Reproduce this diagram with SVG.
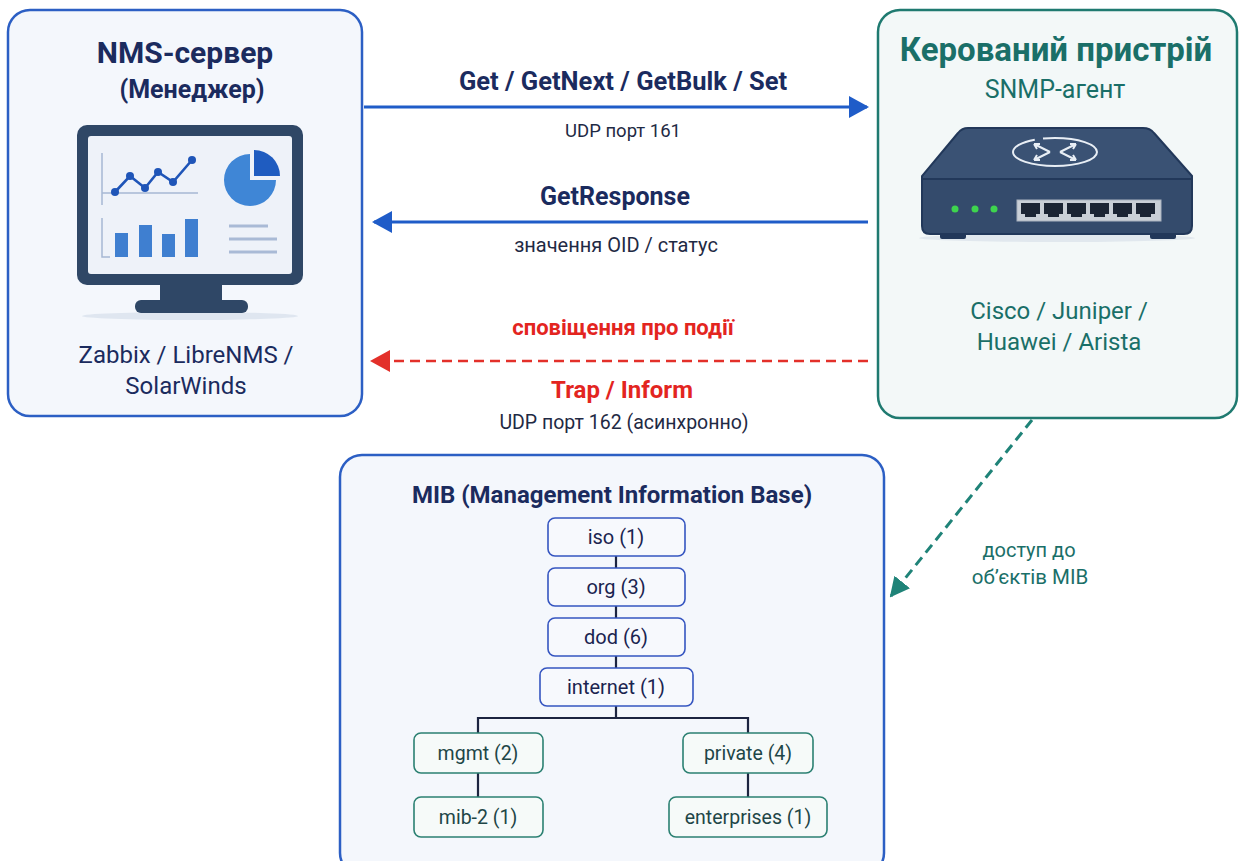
<svg xmlns="http://www.w3.org/2000/svg" width="1240" height="861" viewBox="0 0 1240 861">
  <defs>
    <style>
      text { font-family: Roboto, "Noto Sans", "DejaVu Sans", sans-serif; text-anchor: middle; }
      .navy { fill: #1b2b5e; }
      .teal { fill: #1a6f68; }
      .b { font-weight: bold; }
      .lbl { fill: #1f2a44; }
      .red { fill: #e3251f; font-weight: bold; }
      .box-blue { fill: #f4f7fc; stroke: #2c5fc4; stroke-width: 2.5; }
      .box-teal { fill: #f3f8f8; stroke: #1f7a70; stroke-width: 2.5; }
      .oid-top rect { fill: #f7f9fd; stroke: #3555c0; stroke-width: 1.6; }
      .oid-low rect { fill: #f6faf9; stroke: #2b8072; stroke-width: 1.6; }
      .oid-top text { font-size: 20px; fill: #1b2450; }
      .oid-low text { font-size: 19.5px; fill: #1e4647; }
      .tree { stroke: #1c2440; stroke-width: 2.2; fill: none; }
    </style>
    <marker id="arrBlue" viewBox="0 0 10 10" refX="9" refY="5" markerWidth="20" markerHeight="22" markerUnits="userSpaceOnUse" orient="auto" preserveAspectRatio="none">
      <path d="M0,0 L10,5 L0,10 z" fill="#1f5cc8"/>
    </marker>
    <marker id="arrRed" viewBox="0 0 10 10" refX="9" refY="5" markerWidth="20" markerHeight="22" markerUnits="userSpaceOnUse" orient="auto" preserveAspectRatio="none">
      <path d="M0,0 L10,5 L0,10 z" fill="#e3302a"/>
    </marker>
    <marker id="arrTeal" viewBox="0 0 10 10" refX="9" refY="5" markerWidth="20" markerHeight="20" markerUnits="userSpaceOnUse" orient="auto" preserveAspectRatio="none">
      <path d="M0,0 L10,5 L0,10 z" fill="#1f8378"/>
    </marker>
  </defs>

  <rect width="1240" height="861" fill="#ffffff"/>

  <!-- Manager -->
  <g id="nms">
    <rect class="box-blue" x="8" y="10" width="354" height="406" rx="22"/>
    <text x="185" y="63" class="navy b" font-size="30">NMS-сервер</text>
    <text x="192" y="98" class="navy b" font-size="25">(Менеджер)</text>
    <!-- monitor -->
    <ellipse cx="190" cy="316" rx="108" ry="4" fill="#dfe6f0"/>
    <rect x="77" y="125" width="226" height="160" rx="10" fill="#2f4766"/>
    <rect x="88" y="136" width="204" height="138" rx="3" fill="#eef2f9"/>
    <rect x="160" y="284" width="62" height="18" fill="#2f4766"/>
    <rect x="135" y="300" width="113" height="13" rx="6" fill="#2f4766"/>
    <!-- line chart -->
    <path d="M102,153 V205 M102,193 H198" stroke="#a7b8d4" stroke-width="1.5" fill="none"/>
    <polyline points="115,192 130,176 145,188 158,172 173,182 192,160" fill="none" stroke="#1f55b8" stroke-width="2.6"/>
    <g fill="#1f55b8">
      <circle cx="115" cy="192" r="4"/><circle cx="130" cy="176" r="4"/><circle cx="145" cy="188" r="4"/>
      <circle cx="158" cy="172" r="4"/><circle cx="173" cy="182" r="4"/><circle cx="192" cy="160" r="4"/>
    </g>
    <!-- pie -->
    <path d="M250,154 A26,26 0 1 0 276,180 L250,180 Z" fill="#3f86d6"/>
    <path d="M254,150 A26,26 0 0 1 280,176 L254,176 Z" fill="#1f5cc0"/>
    <!-- bars -->
    <path d="M102,218 V257 H110" stroke="#a7b8d4" stroke-width="1.5" fill="none"/>
    <g fill="#3f7fd0">
      <rect x="115" y="233" width="13" height="24"/>
      <rect x="139" y="225" width="13" height="32"/>
      <rect x="162" y="234" width="13" height="23"/>
      <rect x="185" y="219" width="13" height="38"/>
    </g>
    <g stroke="#a9bad6" stroke-width="3">
      <line x1="229" y1="226" x2="268" y2="226"/>
      <line x1="229" y1="239" x2="277" y2="239"/>
      <line x1="229" y1="252" x2="277" y2="252"/>
    </g>
    <text x="186" y="363" class="navy" font-size="24">Zabbix / LibreNMS /</text>
    <text x="186" y="394" class="navy" font-size="24">SolarWinds</text>
  </g>

  <!-- Agent -->
  <g id="device">
    <rect class="box-teal" x="878" y="10" width="359" height="408" rx="22"/>
    <text x="1056" y="61" class="teal b" font-size="33">Керований пристрій</text>
    <text x="1055" y="98" class="teal" font-size="25">SNMP-агент</text>
    <!-- router -->
    <ellipse cx="1057" cy="238" rx="138" ry="4" fill="#e1e8ee"/>
    <rect x="940" y="230" width="26" height="9" rx="2" fill="#22385a"/>
    <rect x="1150" y="230" width="26" height="9" rx="2" fill="#22385a"/>
    <path d="M968,128 H1143 Q1150,128 1154,133 L1192,176 L1192,180 H922 L922,176 L958,133 Q962,128 968,128 Z" fill="#3a5274" stroke="#22385a" stroke-width="2"/>
    <path d="M922,179 H1192 V226 Q1192,234 1184,234 H930 Q922,234 922,226 Z" fill="#344b6c" stroke="#22385a" stroke-width="2"/>
    <ellipse cx="1055" cy="152" rx="42" ry="14" fill="none" stroke="#e8eef5" stroke-width="2" stroke-dasharray="120 8 60 8"/>
    <g stroke="#e8eef5" stroke-width="2" fill="none">
      <path d="M1034,144 L1050,152 M1034,144 l6,0 M1034,144 l3,5"/>
      <path d="M1076,144 L1060,152 M1076,144 l-6,0 M1076,144 l-3,5"/>
      <path d="M1034,160 L1050,152 M1034,160 l6,0 M1034,160 l3,-5"/>
      <path d="M1076,160 L1060,152 M1076,160 l-6,0 M1076,160 l-3,-5"/>
    </g>
    <g fill="#3ed44e">
      <circle cx="955" cy="209" r="3.5"/><circle cx="975" cy="209" r="3.5"/><circle cx="994" cy="209" r="3.5"/>
    </g>
    <rect x="1017" y="200" width="144" height="21" fill="#c9cfd7" stroke="#aab3bf" stroke-width="1"/>
    <g fill="#1b2434">
      <path d="M1021,203 h19 v11 h-4 v3 h-11 v-3 h-4 z"/>
      <path d="M1044,203 h19 v11 h-4 v3 h-11 v-3 h-4 z"/>
      <path d="M1067,203 h19 v11 h-4 v3 h-11 v-3 h-4 z"/>
      <path d="M1090,203 h19 v11 h-4 v3 h-11 v-3 h-4 z"/>
      <path d="M1113,203 h19 v11 h-4 v3 h-11 v-3 h-4 z"/>
      <path d="M1136,203 h19 v11 h-4 v3 h-11 v-3 h-4 z"/>
    </g>
    <text x="1059" y="319" class="teal" font-size="24">Cisco / Juniper /</text>
    <text x="1059" y="350" class="teal" font-size="24">Huawei / Arista</text>
  </g>

  <!-- MIB tree -->
  <g id="mib">
    <rect class="box-blue" x="340" y="455" width="544" height="420" rx="22"/>
    <text x="612" y="503" class="navy b" font-size="24">MIB (Management Information Base)</text>
    <path class="tree" d="M616,556 V568 M616,606 V618 M616,656 V668 M616,706 V718 M478,733 V718 H748 V733 M478,773 V797 M748,773 V797"/>
    <g class="oid-top">
      <g id="oid-iso"><rect x="548" y="518" width="137" height="38" rx="7"/><text x="616" y="544">iso (1)</text></g>
      <g id="oid-org"><rect x="548" y="568" width="137" height="38" rx="7"/><text x="616" y="594">org (3)</text></g>
      <g id="oid-dod"><rect x="548" y="618" width="137" height="38" rx="7"/><text x="616" y="644">dod (6)</text></g>
      <g id="oid-internet"><rect x="540" y="668" width="153" height="38" rx="7"/><text x="616" y="694">internet (1)</text></g>
    </g>
    <g class="oid-low">
      <g id="oid-mgmt"><rect x="414" y="733" width="129" height="40" rx="7"/><text x="478" y="760">mgmt (2)</text></g>
      <g id="oid-private"><rect x="683" y="733" width="130" height="40" rx="7"/><text x="748" y="760">private (4)</text></g>
      <g id="oid-mib2"><rect x="414" y="797" width="129" height="40" rx="7"/><text x="478" y="824">mib-2 (1)</text></g>
      <g id="oid-enterprises"><rect x="669" y="797" width="158" height="40" rx="7"/><text x="748" y="824">enterprises (1)</text></g>
    </g>
  </g>

  <!-- Connectors -->
  <g id="connectors">
    <line x1="364" y1="107" x2="867" y2="107" stroke="#1f5cc8" stroke-width="3" marker-end="url(#arrBlue)"/>
    <line x1="868" y1="222" x2="374" y2="222" stroke="#1f5cc8" stroke-width="3" marker-end="url(#arrBlue)"/>
    <line x1="868" y1="361" x2="372" y2="361" stroke="#e3302a" stroke-width="2.6" stroke-dasharray="10 6" marker-end="url(#arrRed)"/>
    <line x1="1032" y1="420" x2="891" y2="596" stroke="#1f8378" stroke-width="3" stroke-dasharray="10 6" marker-end="url(#arrTeal)"/>

    <text x="623" y="90" class="navy b" font-size="25.5">Get / GetNext / GetBulk / Set</text>
    <text x="623" y="137" class="lbl" font-size="18.5">UDP порт 161</text>
    <text x="615" y="205" class="navy b" font-size="25">GetResponse</text>
    <text x="616" y="252" class="lbl" font-size="20">значення OID / статус</text>
    <text x="623" y="335" class="red" font-size="22">сповіщення про події</text>
    <text x="622" y="398" class="red" font-size="24">Trap / Inform</text>
    <text x="624" y="429" class="lbl" font-size="19.5">UDP порт 162 (асинхронно)</text>
    <text x="1029" y="557" class="teal" font-size="20">доступ до</text>
    <text x="1030" y="584" class="teal" font-size="20.5">об’єктів МІВ</text>
  </g>
</svg>
